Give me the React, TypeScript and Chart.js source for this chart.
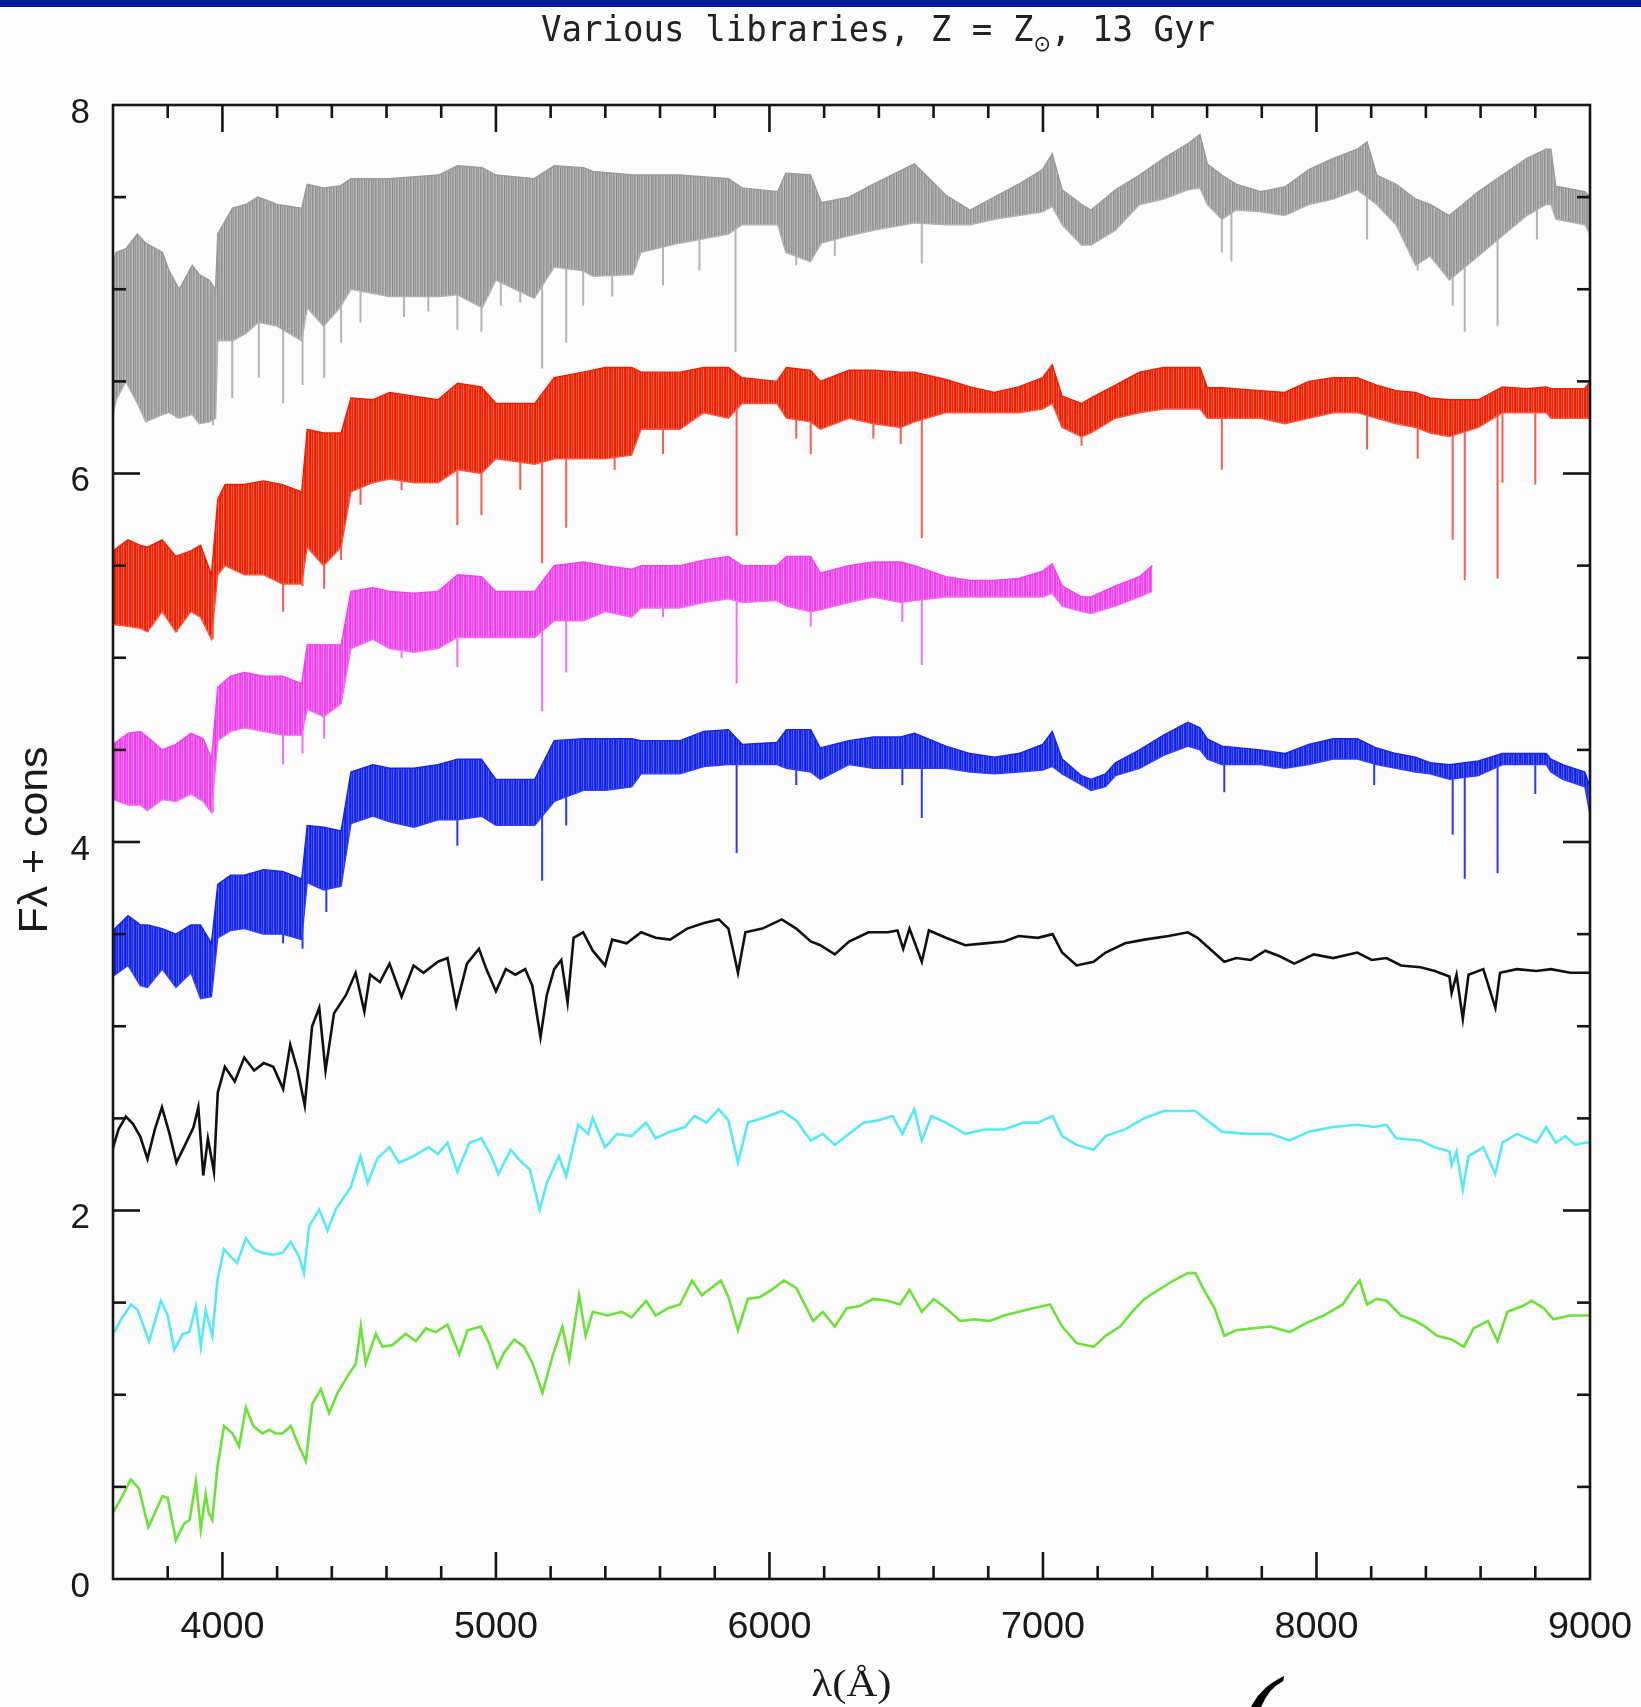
import React, { useEffect, useRef } from 'react';
import { Chart, registerables } from 'chart.js';
Chart.register(...registerables);

const W = 1641;
const H = 1707;

// ---------- axis ticks ----------
const xMinorTicks = [3800, 4000, 4200, 4400, 4600, 4800, 5000, 5200, 5400, 5600, 5800, 6000, 6200, 6400, 6600, 6800, 7000, 7200, 7400, 7600, 7800, 8000, 8200, 8400, 8600, 8800];
const xMajorTicks = [4000, 5000, 6000, 7000, 8000, 9000];
const xTickLabels = ['4000', '5000', '6000', '7000', '8000', '9000'];
const yMinorTicks = [0.5, 1, 1.5, 2, 2.5, 3, 3.5, 4, 4.5, 5, 5.5, 6, 6.5, 7, 7.5];
const yMajorTicks = [0, 2, 4, 6, 8];
const yTickLabels = ['0', '2', '4', '6', '8'];

// ---------- gray (upper / lower envelope of dense spectrum) ----------
const grayWave = [3600, 3612, 3647, 3689, 3720, 3781, 3805, 3842, 3890, 3915, 3951, 3975, 3983, 4037, 4086, 4130, 4200, 4290, 4310, 4370, 4430, 4470, 4610, 4790, 4860, 4950, 5000, 5140, 5213, 5320, 5355, 5500, 5530, 5670, 5850, 5900, 6030, 6060, 6150, 6190, 6291, 6380, 6530, 6645, 6734, 6822, 6911, 6999, 7034, 7070, 7141, 7176, 7265, 7353, 7441, 7530, 7574, 7601, 7654, 7707, 7795, 7884, 7972, 8061, 8149, 8185, 8220, 8291, 8362, 8415, 8486, 8592, 8680, 8769, 8840, 8857, 8875, 8981, 9000];
const grayTop = [7.15, 7.20, 7.22, 7.30, 7.25, 7.20, 7.10, 7.00, 7.13, 7.08, 7.05, 7.00, 7.30, 7.44, 7.46, 7.50, 7.46, 7.44, 7.57, 7.55, 7.56, 7.60, 7.60, 7.62, 7.67, 7.66, 7.62, 7.60, 7.67, 7.66, 7.64, 7.62, 7.62, 7.62, 7.60, 7.55, 7.53, 7.63, 7.62, 7.47, 7.50, 7.57, 7.68, 7.51, 7.43, 7.50, 7.57, 7.65, 7.735, 7.54, 7.46, 7.43, 7.54, 7.62, 7.71, 7.79, 7.84, 7.68, 7.62, 7.57, 7.53, 7.555, 7.65, 7.71, 7.76, 7.80, 7.62, 7.57, 7.49, 7.46, 7.40, 7.53, 7.62, 7.71, 7.76, 7.76, 7.56, 7.53, 7.50];
const grayBottom = [6.32, 6.40, 6.50, 6.38, 6.28, 6.32, 6.33, 6.30, 6.32, 6.27, 6.28, 6.30, 6.72, 6.72, 6.76, 6.82, 6.80, 6.72, 6.90, 6.80, 6.90, 7.00, 6.96, 6.96, 6.97, 6.90, 7.05, 6.95, 7.12, 7.10, 7.07, 7.08, 7.20, 7.25, 7.30, 7.35, 7.35, 7.20, 7.15, 7.25, 7.29, 7.32, 7.36, 7.35, 7.35, 7.38, 7.40, 7.42, 7.45, 7.35, 7.24, 7.24, 7.32, 7.46, 7.49, 7.54, 7.55, 7.46, 7.38, 7.43, 7.42, 7.40, 7.46, 7.49, 7.54, 7.50, 7.46, 7.35, 7.13, 7.18, 7.05, 7.18, 7.29, 7.40, 7.46, 7.46, 7.38, 7.35, 7.30];
// absorption lines: [wavelength, from, to]
const grayLines = [[3717, 6.6, 6.30], [3779, 6.6, 6.35], [3832, 6.5, 6.30], [3903, 6.6, 6.35], [3965, 6.5, 6.26], [4036, 6.9, 6.41], [4133, 6.9, 6.52], [4222, 6.9, 6.38], [4293, 6.9, 6.48], [4372, 7.0, 6.52], [4434, 7.0, 6.71], [4505, 7.1, 6.82], [4664, 7.1, 6.85], [4753, 7.1, 6.88], [4859, 7.1, 6.78], [4947, 7.1, 6.77], [5018, 7.2, 6.91], [5089, 7.1, 6.93], [5169, 7.1, 6.57], [5257, 7.2, 6.71], [5319, 7.2, 6.91], [5425, 7.2, 6.96], [5611, 7.3, 7.02], [5744, 7.35, 7.10], [5876, 7.4, 6.66], [6098, 7.3, 7.13], [6239, 7.35, 7.18], [6557, 7.4, 7.14], [7654, 7.45, 7.20], [7689, 7.45, 7.15], [8185, 7.55, 7.27], [8370, 7.3, 7.10], [8498, 7.2, 6.91], [8542, 7.2, 6.77], [8662, 7.3, 6.80], [8806, 7.5, 7.27]];

// ---------- red ----------
const redWave = [3600, 3655, 3700, 3726, 3780, 3830, 3885, 3920, 3960, 3983, 4010, 4080, 4150, 4220, 4290, 4310, 4370, 4434, 4470, 4550, 4611, 4700, 4788, 4860, 4947, 5000, 5142, 5213, 5320, 5400, 5496, 5531, 5673, 5760, 5850, 5900, 6027, 6062, 6151, 6186, 6291, 6380, 6480, 6530, 6645, 6734, 6822, 6911, 6999, 7034, 7070, 7141, 7176, 7265, 7353, 7441, 7530, 7574, 7601, 7654, 7795, 7884, 7972, 8061, 8149, 8220, 8291, 8362, 8415, 8486, 8592, 8680, 8769, 8840, 8857, 8981, 9000];
const redTop = [5.58, 5.64, 5.61, 5.60, 5.64, 5.55, 5.58, 5.61, 5.45, 5.86, 5.94, 5.94, 5.96, 5.94, 5.90, 6.24, 6.22, 6.22, 6.41, 6.40, 6.44, 6.42, 6.40, 6.49, 6.47, 6.38, 6.38, 6.52, 6.55, 6.575, 6.575, 6.55, 6.55, 6.575, 6.575, 6.52, 6.50, 6.575, 6.56, 6.50, 6.56, 6.56, 6.55, 6.55, 6.51, 6.47, 6.44, 6.47, 6.52, 6.59, 6.42, 6.38, 6.41, 6.48, 6.55, 6.575, 6.575, 6.575, 6.465, 6.465, 6.45, 6.44, 6.50, 6.52, 6.52, 6.48, 6.45, 6.44, 6.41, 6.40, 6.40, 6.47, 6.46, 6.47, 6.46, 6.46, 6.50];
const redBottom = [5.18, 5.17, 5.16, 5.14, 5.25, 5.14, 5.25, 5.22, 5.10, 5.45, 5.50, 5.45, 5.45, 5.40, 5.40, 5.60, 5.50, 5.60, 5.90, 5.95, 5.97, 5.95, 5.95, 6.02, 6.00, 6.08, 6.05, 6.08, 6.08, 6.08, 6.10, 6.24, 6.24, 6.33, 6.30, 6.38, 6.38, 6.30, 6.28, 6.24, 6.30, 6.27, 6.25, 6.28, 6.33, 6.33, 6.33, 6.33, 6.35, 6.38, 6.25, 6.20, 6.22, 6.30, 6.33, 6.35, 6.35, 6.35, 6.30, 6.30, 6.30, 6.27, 6.30, 6.33, 6.33, 6.30, 6.27, 6.25, 6.22, 6.20, 6.25, 6.33, 6.33, 6.33, 6.30, 6.30, 6.30];
const redLines = [[3726, 5.3, 5.14], [3832, 5.3, 5.14], [3965, 5.3, 5.10], [4222, 5.55, 5.25], [4293, 5.55, 5.39], [4372, 5.65, 5.375], [4434, 5.75, 5.53], [4505, 6.05, 5.83], [4655, 6.05, 5.91], [4859, 6.08, 5.72], [4947, 6.1, 5.775], [5089, 6.15, 5.91], [5169, 6.15, 5.513], [5257, 6.18, 5.706], [5434, 6.2, 6.02], [5611, 6.3, 6.106], [5880, 6.4, 5.664], [6098, 6.4, 6.19], [6151, 6.38, 6.106], [6380, 6.4, 6.19], [6557, 6.38, 5.65], [6480, 6.38, 6.16], [7141, 6.3, 6.15], [7654, 6.4, 6.02], [8185, 6.43, 6.13], [8370, 6.35, 6.08], [8498, 6.3, 5.64], [8542, 6.3, 5.42], [8662, 6.35, 5.43], [8680, 6.4, 5.95], [8800, 6.43, 5.94]];

// ---------- magenta ----------
const magWave = [3600, 3655, 3700, 3726, 3780, 3830, 3885, 3930, 3960, 3983, 4030, 4080, 4150, 4220, 4290, 4310, 4370, 4434, 4470, 4550, 4611, 4700, 4788, 4860, 4947, 5000, 5142, 5213, 5320, 5400, 5496, 5531, 5673, 5760, 5850, 5900, 6027, 6062, 6151, 6186, 6291, 6380, 6480, 6530, 6645, 6734, 6822, 6911, 6999, 7034, 7070, 7141, 7176, 7265, 7353, 7400];
const magTop = [4.53, 4.59, 4.60, 4.57, 4.50, 4.53, 4.59, 4.56, 4.45, 4.84, 4.90, 4.92, 4.90, 4.90, 4.86, 5.07, 5.07, 5.07, 5.36, 5.38, 5.36, 5.35, 5.36, 5.45, 5.44, 5.36, 5.36, 5.50, 5.52, 5.50, 5.48, 5.50, 5.50, 5.53, 5.55, 5.50, 5.50, 5.55, 5.55, 5.46, 5.50, 5.52, 5.52, 5.50, 5.44, 5.42, 5.42, 5.43, 5.47, 5.51, 5.39, 5.33, 5.33, 5.39, 5.44, 5.50];
const magBottom = [4.23, 4.20, 4.20, 4.17, 4.23, 4.22, 4.26, 4.22, 4.16, 4.55, 4.60, 4.62, 4.60, 4.58, 4.58, 4.72, 4.68, 4.75, 5.05, 5.10, 5.05, 5.03, 5.05, 5.11, 5.11, 5.11, 5.11, 5.20, 5.20, 5.25, 5.22, 5.27, 5.27, 5.30, 5.32, 5.30, 5.31, 5.28, 5.25, 5.26, 5.30, 5.33, 5.30, 5.31, 5.33, 5.33, 5.33, 5.33, 5.33, 5.35, 5.28, 5.25, 5.24, 5.28, 5.33, 5.36];
const magLines = [[3726, 4.35, 4.17], [3965, 4.35, 4.16], [4222, 4.68, 4.42], [4293, 4.68, 4.48], [4372, 4.78, 4.56], [4655, 5.15, 5.00], [4859, 5.18, 4.95], [5169, 5.2, 4.71], [5257, 5.3, 4.92], [5611, 5.35, 5.22], [5880, 5.4, 4.86], [6151, 5.35, 5.17], [6486, 5.40, 5.195], [6557, 5.41, 4.96]];

// ---------- blue ----------
const blueWave = [3600, 3655, 3700, 3726, 3780, 3830, 3885, 3920, 3960, 3983, 4030, 4080, 4150, 4220, 4290, 4310, 4370, 4434, 4470, 4550, 4611, 4700, 4788, 4860, 4947, 5000, 5142, 5213, 5320, 5400, 5496, 5531, 5673, 5760, 5850, 5900, 6027, 6062, 6151, 6186, 6291, 6380, 6480, 6530, 6645, 6734, 6822, 6911, 6999, 7034, 7070, 7141, 7176, 7229, 7265, 7353, 7441, 7530, 7574, 7601, 7654, 7795, 7884, 7972, 8061, 8149, 8220, 8291, 8362, 8415, 8486, 8592, 8680, 8769, 8840, 8857, 8900, 8981, 9000];
const blueTop = [3.52, 3.60, 3.55, 3.55, 3.53, 3.50, 3.55, 3.55, 3.45, 3.77, 3.82, 3.82, 3.85, 3.84, 3.80, 4.09, 4.08, 4.06, 4.38, 4.42, 4.40, 4.40, 4.42, 4.45, 4.45, 4.34, 4.34, 4.55, 4.56, 4.56, 4.56, 4.55, 4.55, 4.60, 4.61, 4.53, 4.54, 4.61, 4.61, 4.51, 4.55, 4.57, 4.57, 4.59, 4.52, 4.48, 4.46, 4.48, 4.53, 4.60, 4.45, 4.36, 4.34, 4.37, 4.43, 4.50, 4.58, 4.65, 4.62, 4.56, 4.52, 4.50, 4.48, 4.53, 4.56, 4.56, 4.51, 4.48, 4.46, 4.43, 4.42, 4.44, 4.48, 4.48, 4.48, 4.45, 4.42, 4.38, 4.30];
const blueBottom = [3.27, 3.33, 3.22, 3.21, 3.31, 3.21, 3.29, 3.15, 3.16, 3.48, 3.52, 3.53, 3.50, 3.50, 3.47, 3.78, 3.74, 3.76, 4.10, 4.14, 4.11, 4.08, 4.12, 4.12, 4.14, 4.09, 4.09, 4.22, 4.28, 4.28, 4.30, 4.37, 4.37, 4.41, 4.42, 4.42, 4.42, 4.40, 4.38, 4.34, 4.42, 4.40, 4.40, 4.40, 4.40, 4.38, 4.37, 4.38, 4.39, 4.41, 4.37, 4.31, 4.28, 4.30, 4.36, 4.40, 4.47, 4.52, 4.50, 4.45, 4.42, 4.42, 4.40, 4.42, 4.45, 4.45, 4.42, 4.40, 4.38, 4.37, 4.34, 4.36, 4.42, 4.42, 4.42, 4.38, 4.34, 4.30, 4.15];
const blueLines = [[4222, 3.60, 3.45], [4293, 3.60, 3.42], [4380, 3.84, 3.62], [4859, 4.22, 3.98], [5169, 4.19, 3.79], [5257, 4.32, 4.09], [5880, 4.5, 3.94], [6098, 4.48, 4.31], [6486, 4.48, 4.31], [6557, 4.48, 4.13], [7663, 4.5, 4.27], [8211, 4.5, 4.31], [8498, 4.40, 4.04], [8542, 4.40, 3.80], [8662, 4.42, 3.83], [8800, 4.46, 4.26]];

// ---------- black ----------
const blackWave = [3600, 3620, 3647, 3673, 3700, 3726, 3753, 3779, 3806, 3832, 3868, 3894, 3912, 3930, 3947, 3969, 3983, 4009, 4045, 4080, 4116, 4151, 4186, 4222, 4248, 4275, 4301, 4328, 4354, 4377, 4408, 4452, 4487, 4519, 4540, 4576, 4611, 4655, 4699, 4735, 4788, 4823, 4855, 4894, 4938, 4965, 5000, 5036, 5071, 5107, 5133, 5163, 5186, 5213, 5239, 5262, 5284, 5319, 5354, 5399, 5425, 5478, 5531, 5584, 5637, 5699, 5761, 5815, 5850, 5885, 5912, 5974, 6045, 6098, 6151, 6186, 6239, 6291, 6362, 6433, 6468, 6489, 6512, 6557, 6583, 6645, 6716, 6787, 6858, 6911, 6981, 7035, 7070, 7123, 7185, 7229, 7300, 7371, 7459, 7530, 7565, 7618, 7663, 7707, 7760, 7813, 7866, 7919, 7990, 8061, 8149, 8202, 8256, 8309, 8380, 8433, 8486, 8494, 8512, 8535, 8556, 8610, 8654, 8671, 8733, 8804, 8857, 8928, 8981, 9000];
const blackFlux = [2.34, 2.44, 2.51, 2.47, 2.40, 2.28, 2.44, 2.56, 2.42, 2.26, 2.37, 2.45, 2.56, 2.19, 2.39, 2.21, 2.64, 2.78, 2.70, 2.83, 2.76, 2.80, 2.78, 2.66, 2.90, 2.76, 2.57, 3.00, 3.10, 2.76, 3.07, 3.17, 3.29, 3.08, 3.28, 3.24, 3.34, 3.16, 3.33, 3.29, 3.35, 3.37, 3.11, 3.34, 3.42, 3.31, 3.19, 3.31, 3.28, 3.31, 3.22, 2.94, 3.17, 3.31, 3.36, 3.13, 3.48, 3.51, 3.41, 3.33, 3.47, 3.45, 3.51, 3.48, 3.47, 3.53, 3.56, 3.58, 3.53, 3.29, 3.51, 3.53, 3.58, 3.53, 3.46, 3.44, 3.39, 3.46, 3.51, 3.51, 3.52, 3.42, 3.53, 3.35, 3.52, 3.48, 3.44, 3.45, 3.46, 3.49, 3.48, 3.50, 3.40, 3.33, 3.35, 3.40, 3.45, 3.47, 3.49, 3.51, 3.48, 3.41, 3.35, 3.37, 3.36, 3.41, 3.38, 3.34, 3.39, 3.37, 3.40, 3.36, 3.37, 3.33, 3.32, 3.30, 3.27, 3.18, 3.28, 3.04, 3.28, 3.31, 3.10, 3.29, 3.31, 3.30, 3.31, 3.29, 3.29, 3.29];

// ---------- cyan ----------
const cyanWave = [3603, 3630, 3666, 3690, 3732, 3775, 3800, 3824, 3855, 3879, 3903, 3921, 3939, 3963, 3982, 4006, 4030, 4054, 4086, 4116, 4146, 4183, 4220, 4250, 4280, 4298, 4317, 4354, 4384, 4414, 4434, 4469, 4505, 4531, 4567, 4611, 4646, 4699, 4753, 4788, 4823, 4859, 4903, 4947, 4983, 5009, 5054, 5089, 5124, 5160, 5186, 5230, 5257, 5301, 5337, 5354, 5399, 5443, 5496, 5549, 5584, 5637, 5691, 5726, 5770, 5815, 5850, 5885, 5921, 5974, 6045, 6098, 6151, 6195, 6239, 6291, 6344, 6397, 6450, 6486, 6530, 6557, 6592, 6645, 6716, 6787, 6858, 6928, 6981, 7035, 7070, 7123, 7185, 7229, 7300, 7371, 7441, 7512, 7557, 7601, 7654, 7742, 7831, 7902, 7972, 8061, 8149, 8211, 8256, 8291, 8380, 8433, 8486, 8494, 8512, 8535, 8556, 8610, 8654, 8680, 8733, 8804, 8840, 8875, 8910, 8946, 8981, 9000];
const cyanFlux = [1.335, 1.41, 1.49, 1.46, 1.29, 1.51, 1.43, 1.245, 1.33, 1.34, 1.48, 1.26, 1.46, 1.32, 1.625, 1.79, 1.75, 1.715, 1.85, 1.79, 1.77, 1.76, 1.77, 1.83, 1.75, 1.66, 1.915, 2.005, 1.89, 2.005, 2.05, 2.125, 2.295, 2.149, 2.283, 2.343, 2.259, 2.295, 2.343, 2.307, 2.368, 2.21, 2.368, 2.392, 2.295, 2.198, 2.33, 2.27, 2.222, 2.004, 2.149, 2.295, 2.186, 2.465, 2.416, 2.501, 2.343, 2.416, 2.404, 2.477, 2.392, 2.428, 2.453, 2.513, 2.477, 2.55, 2.489, 2.26, 2.477, 2.501, 2.54, 2.489, 2.38, 2.416, 2.356, 2.416, 2.477, 2.489, 2.513, 2.416, 2.55, 2.38, 2.513, 2.477, 2.416, 2.44, 2.44, 2.477, 2.477, 2.513, 2.404, 2.356, 2.33, 2.404, 2.44, 2.501, 2.54, 2.54, 2.54, 2.489, 2.428, 2.416, 2.416, 2.38, 2.428, 2.453, 2.465, 2.453, 2.465, 2.392, 2.38, 2.343, 2.32, 2.246, 2.32, 2.113, 2.295, 2.343, 2.198, 2.368, 2.416, 2.368, 2.453, 2.368, 2.404, 2.356, 2.368, 2.37];

// ---------- green ----------
const greenWave = [3600, 3634, 3665, 3695, 3729, 3757, 3781, 3800, 3830, 3860, 3880, 3903, 3921, 3939, 3950, 3963, 3982, 4006, 4037, 4061, 4086, 4113, 4146, 4171, 4195, 4220, 4250, 4280, 4305, 4329, 4360, 4390, 4421, 4457, 4488, 4506, 4524, 4561, 4585, 4622, 4670, 4707, 4744, 4780, 4823, 4866, 4896, 4945, 4975, 5005, 5030, 5067, 5103, 5134, 5170, 5207, 5243, 5268, 5304, 5328, 5354, 5407, 5460, 5496, 5549, 5584, 5629, 5673, 5717, 5753, 5779, 5823, 5850, 5885, 5921, 5965, 6009, 6053, 6098, 6160, 6195, 6239, 6283, 6327, 6380, 6433, 6477, 6512, 6557, 6601, 6645, 6698, 6751, 6804, 6858, 6911, 6964, 7026, 7070, 7123, 7185, 7229, 7282, 7326, 7371, 7424, 7477, 7530, 7557, 7592, 7627, 7663, 7707, 7760, 7831, 7902, 7964, 8026, 8096, 8132, 8158, 8185, 8220, 8256, 8309, 8362, 8397, 8441, 8494, 8539, 8574, 8627, 8662, 8698, 8751, 8787, 8831, 8866, 8928, 8981, 9000];
const greenFlux = [0.36, 0.45, 0.54, 0.49, 0.28, 0.37, 0.45, 0.44, 0.21, 0.30, 0.32, 0.53, 0.27, 0.46, 0.36, 0.32, 0.61, 0.83, 0.79, 0.72, 0.93, 0.83, 0.79, 0.81, 0.79, 0.79, 0.83, 0.72, 0.64, 0.95, 1.03, 0.90, 1.01, 1.10, 1.17, 1.37, 1.17, 1.33, 1.26, 1.27, 1.33, 1.29, 1.36, 1.34, 1.38, 1.22, 1.35, 1.37, 1.28, 1.15, 1.23, 1.30, 1.26, 1.17, 1.01, 1.21, 1.37, 1.19, 1.54, 1.32, 1.45, 1.43, 1.45, 1.42, 1.51, 1.43, 1.47, 1.49, 1.62, 1.54, 1.57, 1.62, 1.53, 1.35, 1.52, 1.53, 1.57, 1.62, 1.58, 1.40, 1.45, 1.37, 1.47, 1.48, 1.52, 1.51, 1.49, 1.57, 1.45, 1.52, 1.47, 1.40, 1.41, 1.40, 1.43, 1.45, 1.47, 1.49, 1.37, 1.28, 1.26, 1.32, 1.37, 1.45, 1.52, 1.57, 1.62, 1.66, 1.66, 1.56, 1.47, 1.32, 1.35, 1.36, 1.37, 1.34, 1.39, 1.43, 1.49, 1.57, 1.62, 1.49, 1.52, 1.51, 1.43, 1.40, 1.37, 1.32, 1.30, 1.26, 1.36, 1.40, 1.29, 1.45, 1.48, 1.51, 1.47, 1.41, 1.43, 1.43, 1.43];

const pts = (xs: number[], ys: number[]) => xs.map((x, i) => ({ x, y: ys[i] }));
const spikePts = (s: number[][]) => s.flatMap(([x, a, b]) => [{ x, y: a }, { x, y: b }, { x, y: null as any }]);

// vertical-stripe texture so the dense spectra read as many fine lines
function stripes(colors: string[]): any {
  const c = document.createElement('canvas');
  c.width = colors.length;
  c.height = 1;
  const g = c.getContext('2d')!;
  colors.forEach((col, i) => { g.fillStyle = col; g.fillRect(i, 0, 1, 1); });
  return g.createPattern(c, 'repeat');
}

function band(wave: number[], top: number[], bottom: number[], color: string, fill: any, edge: string) {
  return [
    { data: pts(wave, top), borderColor: color, borderWidth: 1.4, pointRadius: 0, fill: false, tension: 0 },
    { data: pts(wave, bottom), borderColor: edge, borderWidth: 1.4, pointRadius: 0, fill: '-1', backgroundColor: fill, tension: 0 },
  ];
}
function spikes(lines: number[][], color: string) {
  return { data: spikePts(lines), borderColor: color, borderWidth: 2, pointRadius: 0, fill: false, spanGaps: false };
}
function line(wave: number[], flux: number[], color: string) {
  return { data: pts(wave, flux), borderColor: color, borderWidth: 2.6, pointRadius: 0, fill: false, tension: 0 };
}

function drawFit(ctx: CanvasRenderingContext2D, text: string, x: number, y: number, font: string, align: CanvasTextAlign, targetW?: number) {
  ctx.save();
  ctx.font = font;
  const w = ctx.measureText(text).width;
  const sx = targetW ? targetW / w : 1;
  ctx.translate(x, y);
  ctx.scale(sx, 1);
  ctx.textAlign = align;
  ctx.textBaseline = 'middle';
  ctx.fillText(text, 0, 0);
  ctx.restore();
}

const decorPlugin = {
  id: 'decor',
  beforeDraw(chart: any) {
    const ctx = chart.ctx;
    ctx.save();
    ctx.fillStyle = '#fcfcfc';
    ctx.fillRect(0, 0, W, H);
    ctx.fillStyle = '#0a1e9c';
    ctx.fillRect(0, 0, W, 7);
    ctx.restore();
  },
  afterDraw(chart: any) {
    const { ctx, chartArea: a, scales } = chart;
    const x = scales.x, y = scales.y;
    ctx.save();
    ctx.strokeStyle = '#161616';
    ctx.lineCap = 'butt';
    ctx.lineWidth = 2.6;
    ctx.strokeRect(a.left, a.top, a.right - a.left, a.bottom - a.top);
    const seg = (x1: number, y1: number, x2: number, y2: number) => { ctx.beginPath(); ctx.moveTo(x1, y1); ctx.lineTo(x2, y2); ctx.stroke(); };
    xMinorTicks.forEach((v) => {
      const px = x.getPixelForValue(v);
      const len = xMajorTicks.includes(v) ? 27 : 13;
      seg(px, a.bottom, px, a.bottom - len);
      seg(px, a.top, px, a.top + len);
    });
    yMinorTicks.forEach((v) => {
      const py = y.getPixelForValue(v);
      const len = yMajorTicks.includes(v) ? 27 : 13;
      seg(a.left, py, a.left + len, py);
      seg(a.right, py, a.right - len, py);
    });
    ctx.fillStyle = '#1a1a1a';
    xMajorTicks.forEach((v, i) => {
      drawFit(ctx, xTickLabels[i], x.getPixelForValue(v), a.bottom + 49, '36px "Liberation Sans"', 'center', 84);
    });
    yMajorTicks.forEach((v, i) => {
      drawFit(ctx, yTickLabels[i], 90, y.getPixelForValue(v) + 8, '35px "Liberation Sans"', 'right');
    });
    // x axis title
    drawFit(ctx, 'λ(Å)', (a.left + a.right) / 2, 1686, '38px "Liberation Serif"', 'center', 80);
    // y axis title
    ctx.save();
    ctx.translate(36, 840);
    ctx.rotate(-Math.PI / 2);
    drawFit(ctx, 'Fλ + cons', 0, 0, '40px "Liberation Sans"', 'center', 187);
    ctx.restore();
    // main title with subscript sun symbol
    const f1 = '36px "DejaVu Sans Mono"';
    const f2 = '22px "DejaVu Sans"';
    const p1 = 'Various libraries, Z = Z';
    const p2 = '⊙';
    const p3 = ', 13 Gyr';
    ctx.font = f1; const w1 = ctx.measureText(p1).width; const w3 = ctx.measureText(p3).width;
    ctx.font = f2; const w2 = ctx.measureText(p2).width;
    const target = 674;
    const sx = target / (w1 + w2 + w3);
    ctx.save();
    ctx.translate(878 - target / 2, 0);
    ctx.scale(sx, 1);
    ctx.textBaseline = 'alphabetic';
    ctx.textAlign = 'left';
    ctx.fillStyle = '#222';
    ctx.font = f1; ctx.fillText(p1, 0, 41);
    ctx.font = f2; ctx.fillText(p2, w1, 51);
    ctx.font = f1; ctx.fillText(p3, w1 + w2, 41);
    ctx.restore();
    // partial glyph at the bottom
    ctx.font = 'italic 120px "Liberation Serif"';
    ctx.textAlign = 'left';
    ctx.textBaseline = 'top';
    ctx.fillStyle = '#000';
    ctx.fillText('(', 1238, 1668);
    ctx.restore();
  },
};

export default function App() {
  const ref = useRef<HTMLCanvasElement>(null);
  useEffect(() => {
    document.body.style.margin = '0';
    const canvas = ref.current;
    if (!canvas) return;
    const grayFill = stripes(['#8f8f8f', '#a8a8a8', '#9a9a9a', '#b4b4b4', '#939393', '#a2a2a2', '#bcbcbc']);
    const redFill = stripes(['#ee1a00', '#f25036', '#f01e00', '#f46c58', '#ec2808']);
    const magFill = stripes(['#ee36ee', '#f36cf3', '#f042f0', '#f58af5', '#ec4cec']);
    const blueFill = stripes(['#101fe4', '#3b49ee', '#1424e8', '#5a66f0', '#1a2ae8']);
    const datasets: any[] = [
      ...band(grayWave, grayTop, grayBottom, '#9a9a9a', grayFill, '#b2b2b2'),
      spikes(grayLines, '#b4b4b4'),
      ...band(redWave, redTop, redBottom, '#f01e00', redFill, '#f25a44'),
      spikes(redLines, '#f0604c'),
      ...band(magWave, magTop, magBottom, '#f040f0', magFill, '#f070f0'),
      spikes(magLines, '#f070f0'),
      ...band(blueWave, blueTop, blueBottom, '#1424e8', blueFill, '#3040ec'),
      spikes(blueLines, '#2a3aec'),
      line(blackWave, blackFlux, '#111111'),
      line(cyanWave, cyanFlux, '#5ae8f6'),
      line(greenWave, greenFlux, '#6ee03c'),
    ];
    const chart = new Chart(canvas, {
      type: 'line',
      data: { datasets },
      options: {
        animation: false,
        responsive: false,
        devicePixelRatio: 1,
        events: [],
        layout: { padding: { left: 113, right: 51, top: 105, bottom: 128 } },
        scales: {
          x: { type: 'linear', min: 3600, max: 9000, display: false, offset: false },
          y: { type: 'linear', min: 0, max: 8, display: false },
        },
        plugins: { legend: { display: false }, tooltip: { enabled: false }, title: { display: false } },
      },
      plugins: [decorPlugin],
    } as any);
    return () => chart.destroy();
  }, []);
  return <canvas ref={ref} width={W} height={H} style={{ display: 'block', width: W, height: H }} />;
}
